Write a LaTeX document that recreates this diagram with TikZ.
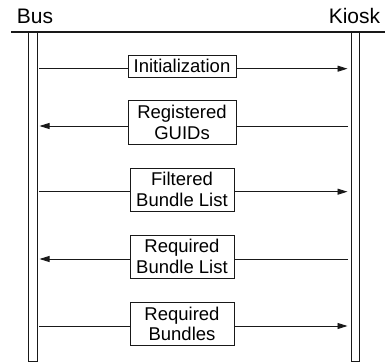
\documentclass[tikz,border=0pt]{standalone}
\usepackage{fontspec}
\setmainfont{Liberation Sans}
\usetikzlibrary{arrows.meta}
\begin{document}
\begin{tikzpicture}[x=1pt,y=-1pt,
  ln/.style={line width=0.9pt,black!90},
  msg/.style={ln,-{Triangle[length=10pt,width=6pt]}},
  lifeline/.style={ln},
  msgbox/.style={draw,ln,fill=white,inner sep=0pt,align=center,
    font=\fontsize{18.5}{20.7}\selectfont,text=black},
  head/.style={inner sep=0pt,font=\fontsize{21}{24}\selectfont,text=black}]
\useasboundingbox (0,0) rectangle (385,363);
% headers
\node[head] (bus) at (35,16) {Bus};
\node[head] (kiosk) at (354.5,16) {Kiosk};
\coordinate (topL) at (11,32);
\coordinate (topR) at (385,32);
\draw[line width=1.2pt,black!90] (topL) -- (topR);
% lifelines
\draw[lifeline] (28.5,32) -- (28.5,361.5) -- (37,361.5) -- (37,32);
\draw[lifeline] (351,32) -- (351,361.5) -- (359.5,361.5) -- (359.5,32);
% boxes
\node[msgbox,minimum width=108pt,minimum height=22pt] (m1) at (182,66.2) {Initialization};
\node[msgbox,minimum width=108pt,minimum height=43.5pt] (m2) at (182,122.5) {Registered\\GUIDs};
\node[msgbox,minimum width=104pt,minimum height=43pt] (m3) at (182,189.5) {Filtered\\Bundle List};
\node[msgbox,minimum width=104pt,minimum height=43.5pt] (m4) at (182,256.7) {Required\\Bundle List};
\node[msgbox,minimum width=104pt,minimum height=43.5pt] (m5) at (182,324) {Required\\Bundles};
% endpoints
\coordinate (l1) at (39,68.7);  \coordinate (r1) at (347.5,68.7);
\coordinate (l2) at (39.5,126); \coordinate (r2) at (348,126);
\coordinate (l3) at (39,191.7); \coordinate (r3) at (347.5,191.7);
\coordinate (l4) at (39.5,259); \coordinate (r4) at (348,259);
\coordinate (l5) at (39,326);   \coordinate (r5) at (347.5,326);
% messages
\draw[ln] (l1) -- (l1 -| m1.west);
\draw[msg] (r1 -| m1.east) -- (r1);
\draw[ln] (r2) -- (r2 -| m2.east);
\draw[msg] (l2 -| m2.west) -- (l2);
\draw[ln] (l3) -- (l3 -| m3.west);
\draw[msg] (r3 -| m3.east) -- (r3);
\draw[ln] (r4) -- (r4 -| m4.east);
\draw[msg] (l4 -| m4.west) -- (l4);
\draw[ln] (l5) -- (l5 -| m5.west);
\draw[msg] (r5 -| m5.east) -- (r5);
\end{tikzpicture}
\end{document}
